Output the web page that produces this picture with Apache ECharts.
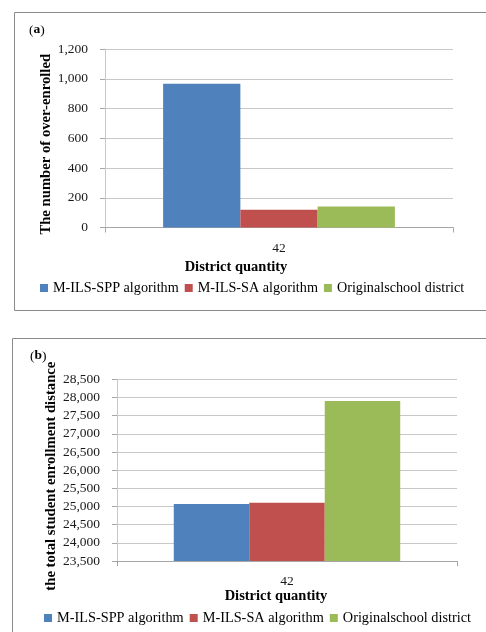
<!DOCTYPE html>
<html>
<head>
<meta charset="utf-8">
<script src="https://cdn.jsdelivr.net/npm/echarts@6/dist/echarts.min.js"></script>
<style>html,body{margin:0;padding:0;background:#fff}#c{width:486px;height:632px}</style>
</head>
<body>
<div id="c"></div>
<script>
const categories = ['42'];
const seriesNames = ['M-ILS-SPP algorithm', 'M-ILS-SA algorithm', 'Originalschool district'];
const colors = ['#4f81bd', '#c0504d', '#9bbb59'];
// Panel (a): number of over-enrolled
const overSPP = [967];
const overSA = [119];
const overOrig = [141];
// Panel (b): total student enrollment distance
const distSPP = [25070];
const distSA = [25105];
const distOrig = [27903];

const FONT = '"Liberation Serif", "DejaVu Serif", serif';
const chart = echarts.init(document.getElementById('c'), null, {renderer: 'canvas'});

function yAxisCfg(grid, name, min, max, interval, gap, shift) {
  return {
    type: 'value', gridIndex: grid, min: min, max: max, interval: interval,
    name: name, nameLocation: 'middle', nameGap: gap, nameRotate: 90,
    nameMoveOverlap: false,
    nameTextStyle: {fontFamily: FONT, fontWeight: 'bold', fontSize: 14.7, color: '#000',
      padding: [0, shift * 2, 0, 0]},
    axisLine: {show: true, lineStyle: {color: '#c8c8c8'}},
    axisTick: {show: true, length: 5, lineStyle: {color: '#a6a6a6'}},
    axisLabel: {fontFamily: FONT, fontSize: 13.5, color: '#1a1a1a', margin: 17,
      formatter: v => v.toLocaleString('en-US')},
    splitLine: {show: true, lineStyle: {color: '#c8c8c8'}}
  };
}
function xAxisCfg(grid, gap, margin, shift) {
  return {
    type: 'category', gridIndex: grid, data: categories,
    name: 'District quantity', nameLocation: 'middle', nameGap: gap,
    nameMoveOverlap: false,
    nameTextStyle: {fontFamily: FONT, fontWeight: 'bold', fontSize: 14.5, color: '#000',
      padding: [0, shift * 2, 0, 0]},
    axisLine: {show: true, lineStyle: {color: '#a6a6a6'}},
    axisTick: {show: true, length: 5, lineStyle: {color: '#a6a6a6'}},
    axisLabel: {fontFamily: FONT, fontSize: 13.5, color: '#1a1a1a', margin: margin}
  };
}
function bar(name, data, idx, color) {
  return {name: name, type: 'bar', xAxisIndex: idx, yAxisIndex: idx, data: data,
    itemStyle: {color: color}, barGap: '0%', barCategoryGap: '33.4%'};
}

chart.setOption({
  animation: false,
  grid: [
    {left: 105, right: 33, top: 49, height: 178.5},
    {left: 117, right: 29, top: 379.3, height: 181.7}
  ],
  xAxis: [xAxisCfg(0, 32, 14, 43), xAxisCfg(1, 28, 13, 11)],
  yAxis: [
    yAxisCfg(0, 'The number of over-enrolled', 0, 1200, 200, 51, 6),
    yAxisCfg(1, 'the total student enrollment distance', 23500, 28500, 500, 58, 6)
  ],
  legend: [
    {data: seriesNames.map(n => ({name: n})), left: 40, top: 281, itemWidth: 8, itemHeight: 8,
     itemGap: 6, icon: 'rect', textStyle: {fontFamily: FONT, fontSize: 14.2, color: '#000'},
     padding: 0, selectedMode: false},
    {data: seriesNames.map(n => ({name: n})), left: 44, top: 611, itemWidth: 8, itemHeight: 8,
     itemGap: 6, icon: 'rect', textStyle: {fontFamily: FONT, fontSize: 14.3, color: '#000'},
     padding: 0, selectedMode: false}
  ],
  graphic: [
    {type: 'rect', shape: {x: 14.5, y: 12.5, width: 500, height: 298}, style: {fill: 'none', stroke: '#8a8a8a', lineWidth: 1}, z: -1},
    {type: 'rect', shape: {x: 12.5, y: 338.5, width: 500, height: 320}, style: {fill: 'none', stroke: '#8a8a8a', lineWidth: 1}, z: -1},
    {type: 'text', left: 29, top: 23, style: {text: '({b|a})', fontFamily: FONT, fontSize: 13.5, fill: '#000',
      rich: {b: {fontFamily: FONT, fontSize: 13.5, fontWeight: 'bold', fill: '#000'}}}},
    {type: 'text', left: 30, top: 349, style: {text: '({b|b})', fontFamily: FONT, fontSize: 13.5, fill: '#000',
      rich: {b: {fontFamily: FONT, fontSize: 13.5, fontWeight: 'bold', fill: '#000'}}}}
  ],
  series: [
    bar(seriesNames[0], overSPP, 0, colors[0]),
    bar(seriesNames[1], overSA, 0, colors[1]),
    bar(seriesNames[2], overOrig, 0, colors[2]),
    bar(seriesNames[0], distSPP, 1, colors[0]),
    bar(seriesNames[1], distSA, 1, colors[1]),
    bar(seriesNames[2], distOrig, 1, colors[2])
  ]
});
</script>
</body>
</html>
